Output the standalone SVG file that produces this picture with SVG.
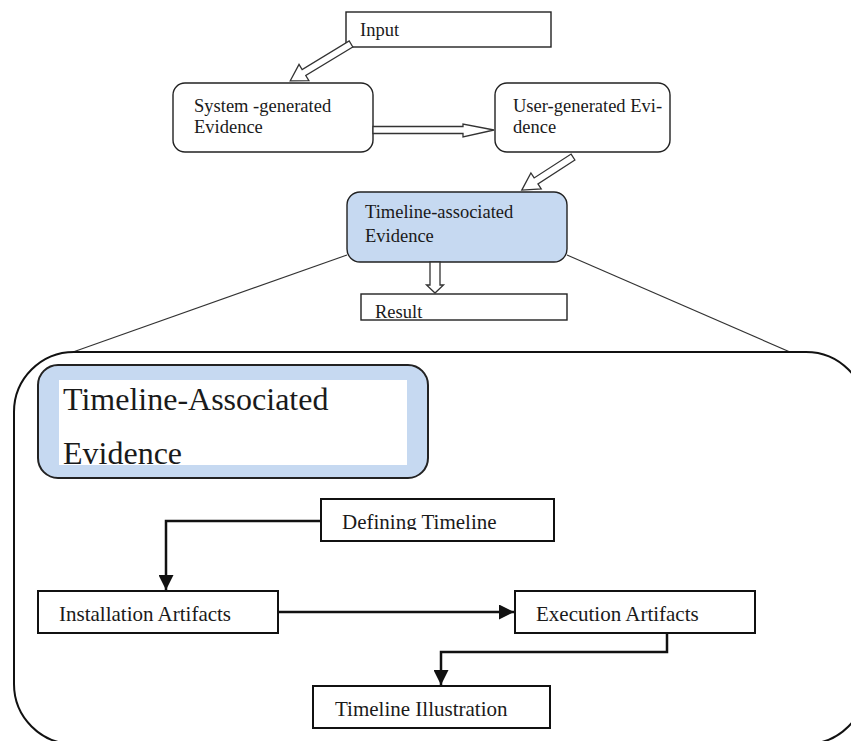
<svg xmlns="http://www.w3.org/2000/svg" width="851" height="741" viewBox="0 0 851 741">
<defs>
<style>
.t{font-family:"Liberation Serif","Times New Roman",serif;fill:#1a1a1a}
.s{font-size:18.5px}
.b{font-size:21px}
.big{font-size:32px}
.box{fill:#fff;stroke:#222;stroke-width:1.4}
.bbox{fill:#fff;stroke:#111;stroke-width:2}
.ha{fill:#fff;stroke:#333;stroke-width:1.3;stroke-linejoin:miter}
.con{fill:none;stroke:#111;stroke-width:2.5}
.thin{fill:none;stroke:#333;stroke-width:1.2}
</style>
<marker id="ah" viewBox="0 0 15 15" markerWidth="15" markerHeight="15" markerUnits="userSpaceOnUse" refX="15" refY="7.5" orient="auto">
<path d="M0,0 L15,7.5 L0,15 z" fill="#111"/>
</marker>
<clipPath id="clipDef"><rect x="321" y="499" width="233" height="31"/></clipPath>
<clipPath id="clipBig"><rect x="59" y="380" width="348" height="85"/></clipPath>
</defs>

<g id="zoom-lines">
<line class="thin" x1="347" y1="255" x2="73" y2="352"/>
<line class="thin" x1="567" y1="255" x2="790" y2="352"/>
</g>

<g id="detail-frame">
<rect x="14" y="352" width="852" height="392" rx="60" ry="60" fill="none" stroke="#111" stroke-width="2"/>
</g>

<g id="input">
<rect class="box" x="346" y="12" width="205" height="35"/>
<text class="t s" x="360" y="36">Input</text>
</g>

<g id="system-evidence">
<rect class="box" x="173" y="83" width="200" height="69" rx="12"/>
<text class="t s" x="194" y="112">System -generated</text>
<text class="t s" x="194" y="133">Evidence</text>
</g>

<g id="user-evidence">
<rect class="box" x="495" y="83" width="175" height="69" rx="12"/>
<text class="t s" x="513" y="112">User-generated Evi-</text>
<text class="t s" x="513" y="133">dence</text>
</g>

<g id="timeline-evidence">
<rect x="347" y="192" width="220" height="70" rx="13" fill="#c6d9f1" stroke="#222" stroke-width="1.4"/>
<text class="t s" x="365" y="218">Timeline-associated</text>
<text class="t s" x="365" y="242">Evidence</text>
</g>

<g id="result">
<rect class="box" x="361" y="294" width="206" height="26"/>
<text class="t s" x="375" y="318">Result</text>
</g>

<g id="hollow-connectors">
<polygon class="ha" transform="translate(351,44) rotate(148.8)" points="0,-3.5 55,-3.5 55,-9.5 71,0 55,9.5 55,3.5 0,3.5"/>
<polygon class="ha" points="373,126.5 463,126.5 463,124 494,130 463,137 463,133.5 373,133.5"/>
<polygon class="ha" transform="translate(573,157) rotate(147.1)" points="0,-3.5 44,-3.5 44,-9.5 61,0 44,9.5 44,3.5 0,3.5"/>
<polygon class="ha" points="430,262 440,262 440,285 443.5,285 435,293 426.5,285 430,285"/>
</g>

<g id="timeline-associated-header">
<rect x="38" y="365" width="390" height="113" rx="20" fill="#c6d9f1" stroke="#222" stroke-width="2"/>
<rect x="59" y="380" width="348" height="85" fill="#fff"/>
<g clip-path="url(#clipBig)">
<text class="t big" x="63" y="410">Timeline-Associated</text>
<text class="t big" x="63" y="464">Evidence</text>
</g>
</g>

<g id="defining-timeline">
<rect class="bbox" x="321" y="499" width="233" height="42"/>
<text class="t b" x="342" y="529" clip-path="url(#clipDef)">Defining Timeline</text>
</g>

<g id="installation-artifacts">
<rect class="bbox" x="38" y="591" width="240" height="42"/>
<text class="t b" x="59" y="621">Installation Artifacts</text>
</g>

<g id="execution-artifacts">
<rect class="bbox" x="515" y="591" width="240" height="42"/>
<text class="t b" x="536" y="621">Execution Artifacts</text>
</g>

<g id="timeline-illustration">
<rect class="bbox" x="313" y="686" width="237" height="42"/>
<text class="t b" x="335" y="716">Timeline Illustration</text>
</g>

<g id="connectors">
<path class="con" d="M321,521 H166 V590" marker-end="url(#ah)"/>
<path class="con" d="M278,612 H514" marker-end="url(#ah)"/>
<path class="con" d="M667,633 V652 H441 V685" marker-end="url(#ah)"/>
</g>
</svg>
